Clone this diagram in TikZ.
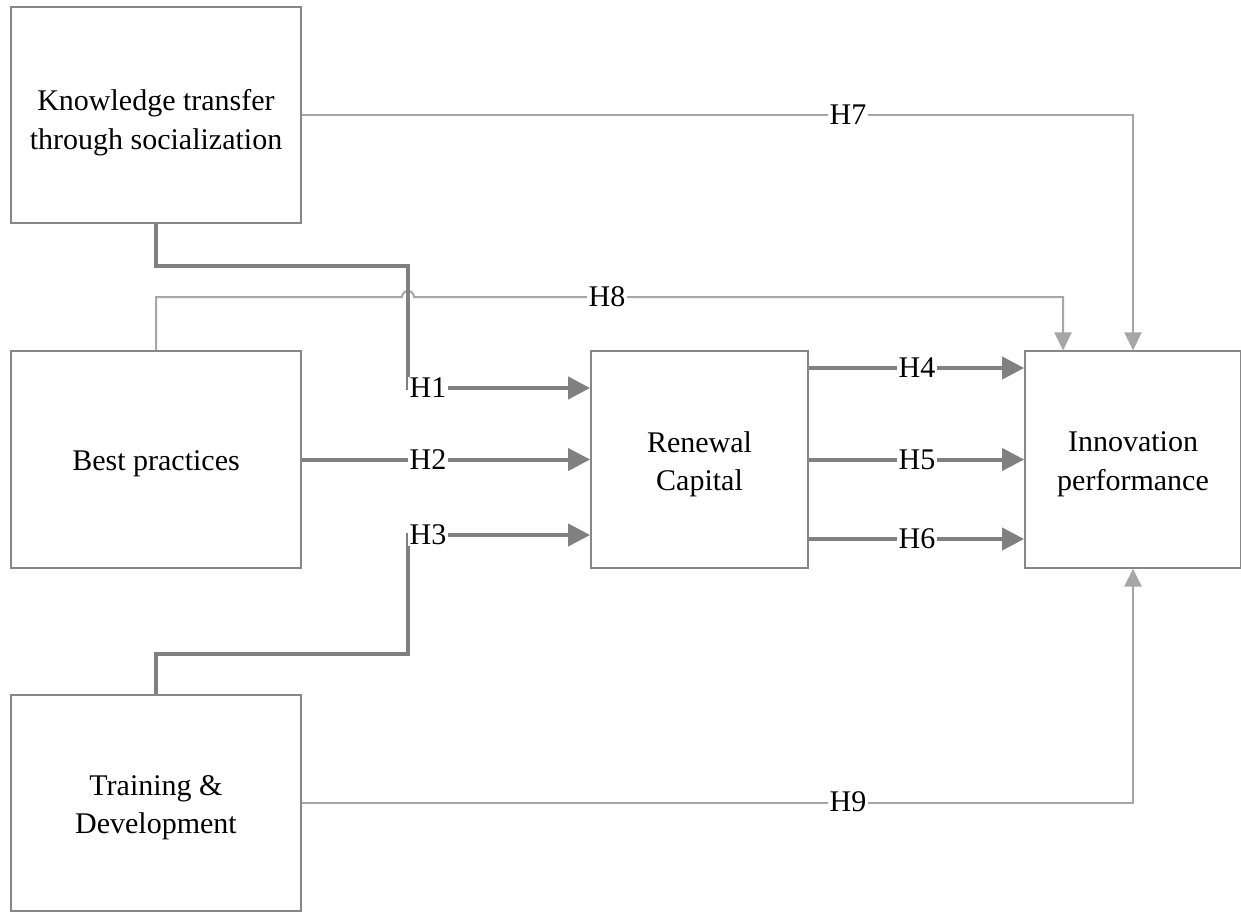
\documentclass[tikz,border=0pt]{standalone}
\usepackage{fontspec}
\setmainfont{Liberation Serif}
\usetikzlibrary{arrows.meta}
\definecolor{thickc}{RGB}{128,128,128}
\definecolor{thinc}{RGB}{166,166,166}
\definecolor{bordc}{RGB}{135,135,135}
\begin{document}
\begin{tikzpicture}[x=0.75pt,y=-0.75pt,
  font=\fontsize{22.5}{29}\selectfont,
  box/.style={draw=bordc, line width=1.3pt, fill=white, minimum width=217.5pt, minimum height=162.5pt, inner sep=0pt},
  boxtext/.style={label={[align=center, yshift=-3.5pt]center:#1}},
  strong/.style={draw=thickc, line width=3pt, -{Triangle[length=16.5pt,width=16.5pt]}},
  weak/.style={draw=thinc, line width=1.5pt, -{Triangle[length=13.5pt,width=13pt]}},
  lab/.style={fill=white, inner sep=1pt}]
\useasboundingbox (0,0) rectangle (1241,911);

% boxes
\node[box, label={[align=center, yshift=-6pt]center:Knowledge transfer\\through socialization}] (kt) at (156,115) {};
\node[box, boxtext={Best practices}] (bp) at (156,459.5) {};
\node[box, boxtext={Training \&\\Development}] (td) at (156,803) {};
\node[box, minimum width=162.75pt, boxtext={Renewal\\Capital}] (rc) at (699.5,459.5) {};
\node[box, minimum width=162pt, boxtext={Innovation\\performance}] (ip) at (1133,459.5) {};

% coordinates
\coordinate (c8a) at (156,297);
\coordinate (c8b) at (402,297);
\coordinate (c8c) at (1063,297);
\coordinate (k1) at (156,266);
\coordinate (k2) at (408,266);
\coordinate (k3) at (408,388);
\coordinate (t1) at (156,654);
\coordinate (t2) at (408,654);
\coordinate (t3) at (408,535);
\coordinate (r4) at (0,368);
\coordinate (r6) at (0,539);

% thin connectors
\draw[weak] (kt.east) -| (ip.north);
\draw[weak] (bp.north) -- (c8a) -- (c8b) arc[start angle=180,end angle=0,radius=4.5pt] -- (c8c) -- (c8c |- ip.north);
\draw[weak] (td.east) -| (ip.south);

% thick connectors
\draw[strong] (kt.south) -- (k1) -- (k2) -- (k3) -- (k3 -| rc.west);
\draw[strong] (bp.east) -- (rc.west);
\draw[strong] (td.north) -- (t1) -- (t2) -- (t3) -- (t3 -| rc.west);
\draw[strong] (rc.east |- r4) -- (ip.west |- r4);
\draw[strong] (rc.east) -- (ip.west);
\draw[strong] (rc.east |- r6) -- (ip.west |- r6);

% labels
\node[lab] (h1) at (428,388) {H1};
\node[lab] (h2) at (428,460) {H2};
\node[lab] (h3) at (428,535) {H3};
\node[lab] (h4) at (917,368) {H4};
\node[lab] (h5) at (917,460) {H5};
\node[lab] (h6) at (917,539) {H6};
\node[lab] (h7) at (848,115) {H7};
\node[lab] (h8) at (607,297) {H8};
\node[lab] (h9) at (848,802) {H9};
\end{tikzpicture}
\end{document}
